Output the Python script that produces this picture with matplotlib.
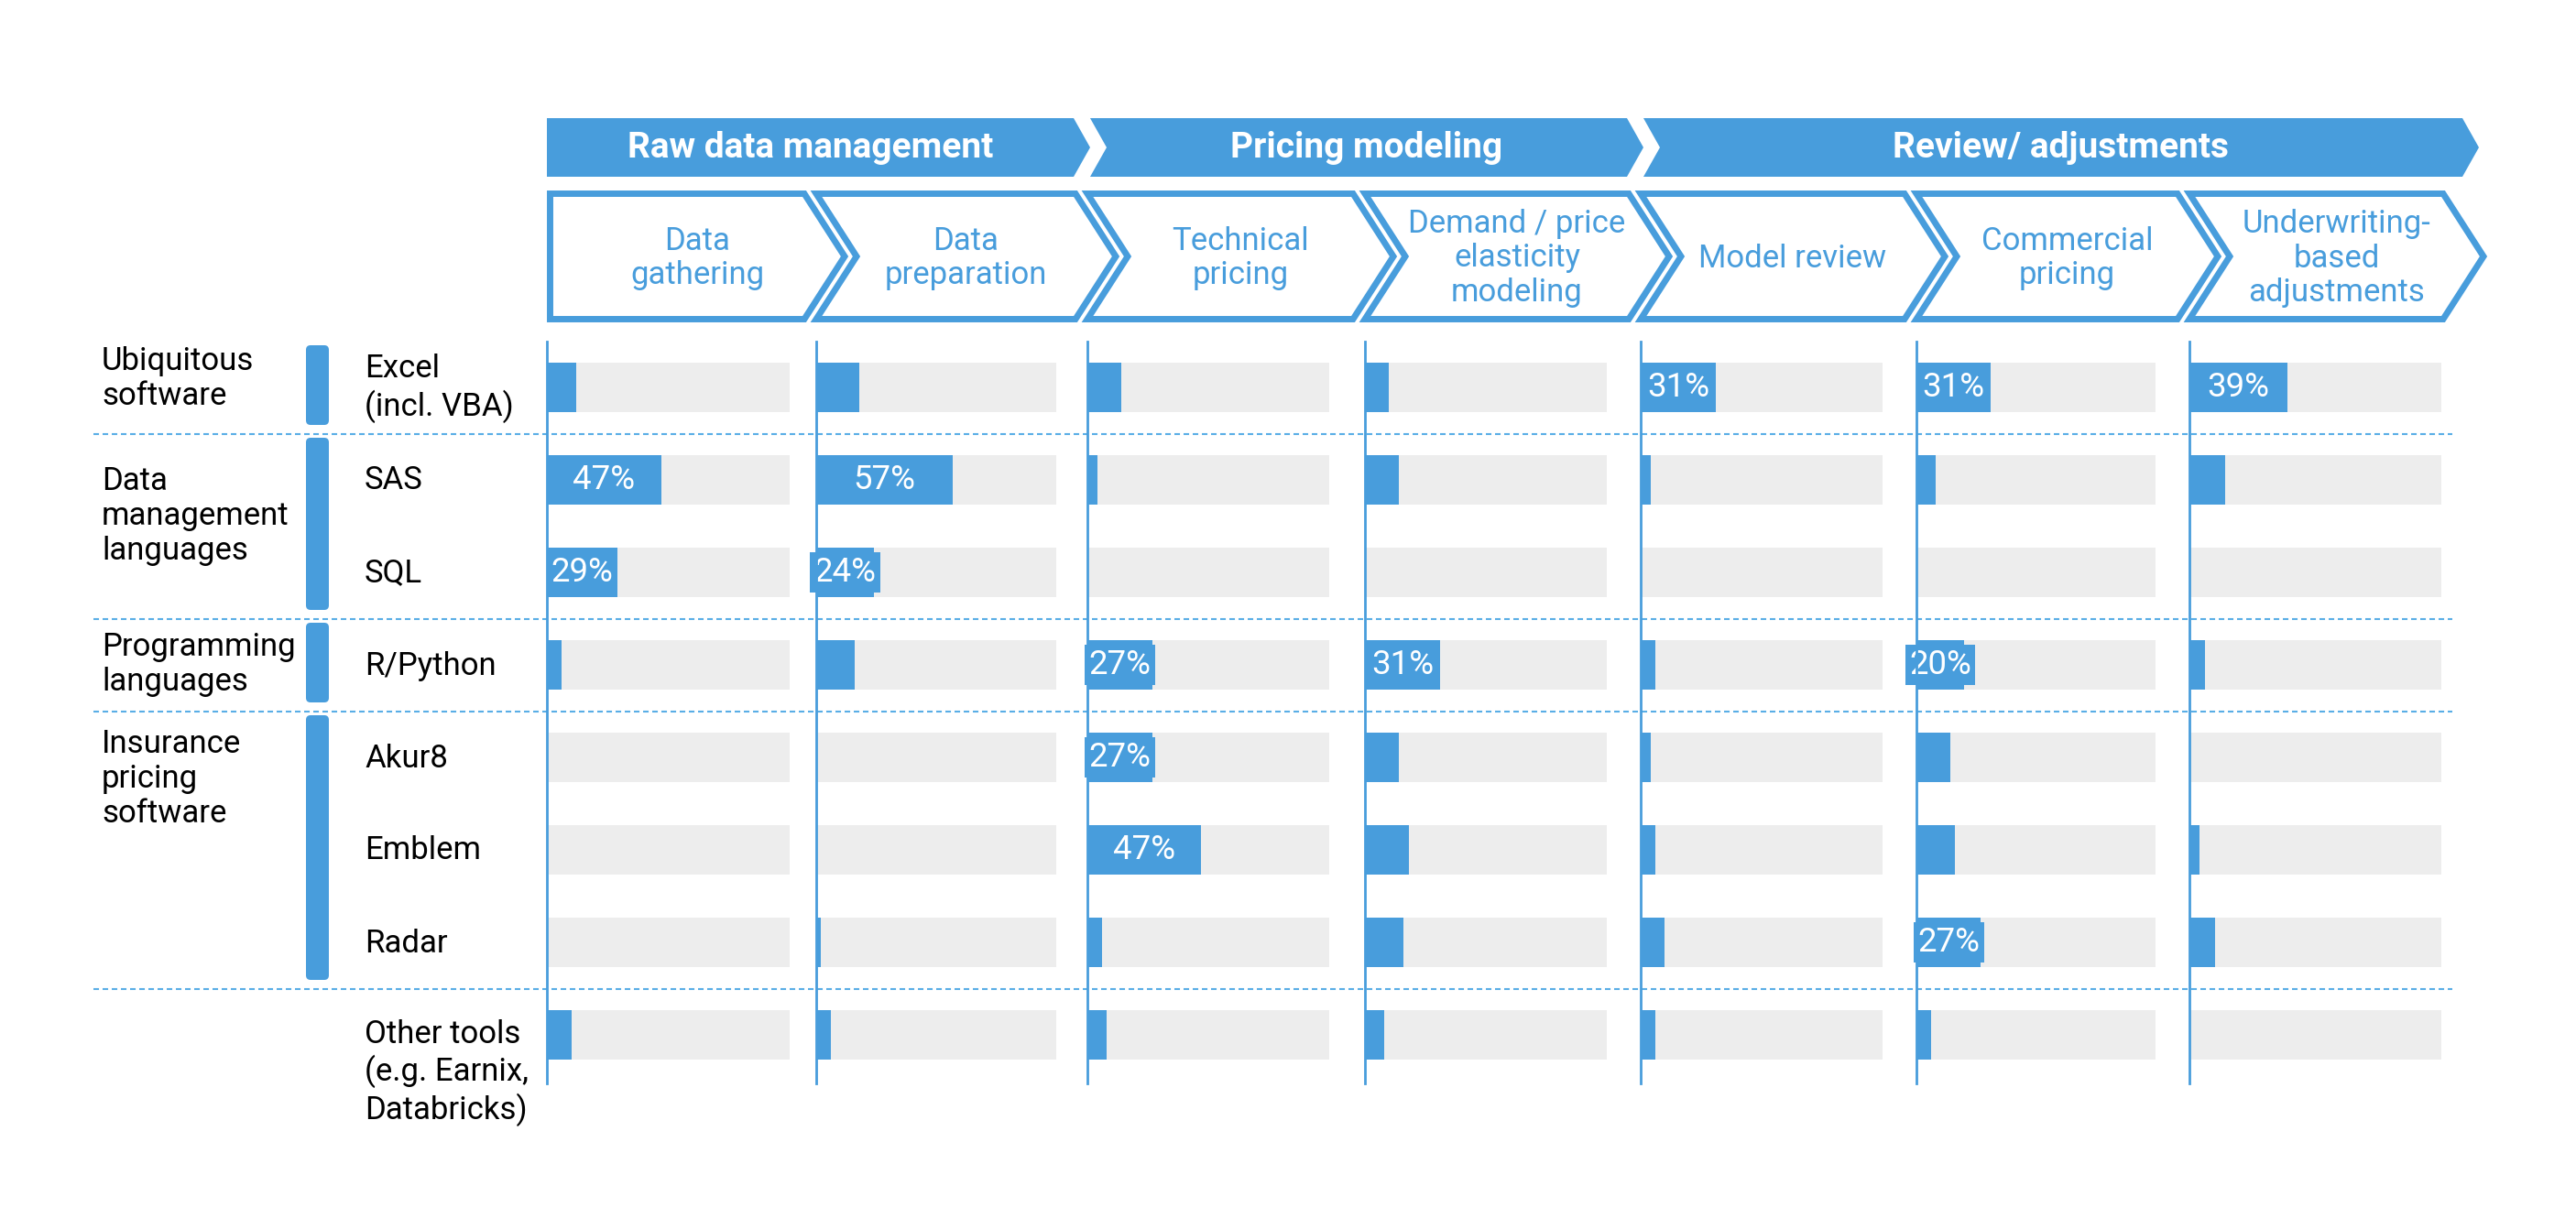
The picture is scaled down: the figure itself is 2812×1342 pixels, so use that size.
import numpy as np
import matplotlib.pyplot as plt
from matplotlib.patches import Polygon, FancyBboxPatch

plt.rcParams['font.family'] = ['Roboto', 'DejaVu Sans']

# --- data -------------------------------------------------------------
stages = ['Raw data management', 'Pricing modeling', 'Review/ adjustments']
stage_steps = [(0, 2), (2, 4), (4, 7)]
steps = ['Data\ngathering', 'Data\npreparation', 'Technical\npricing',
         'Demand / price\nelasticity\nmodeling', 'Model review',
         'Commercial\npricing', 'Underwriting-\nbased\nadjustments']
groups = ['Ubiquitous\nsoftware', 'Data\nmanagement\nlanguages',
          'Programming\nlanguages', 'Insurance\npricing\nsoftware']
group_rows = [(0, 0), (1, 2), (3, 3), (4, 6)]
tools = ['Excel\n(incl. VBA)', 'SAS', 'SQL', 'R/Python', 'Akur8', 'Emblem',
         'Radar', 'Other tools\n(e.g. Earnix,\nDatabricks)']

# share of respondents using each tool (%), one list per step, tool order
data_gathering     = [12, 47, 29, 6, 0, 0, 0, 10]
data_preparation   = [18, 57, 24, 16, 0, 0, 2, 6]
technical_pricing  = [14, 4, 0, 27, 27, 47, 6, 8]
demand_modeling    = [10, 14, 0, 31, 14, 18, 16, 8]
model_review       = [31, 4, 0, 6, 4, 6, 10, 6]
commercial_pricing = [31, 8, 0, 20, 14, 16, 27, 6]
underwriting_adj   = [39, 14, 0, 6, 0, 4, 10, 0]
values = [data_gathering, data_preparation, technical_pricing, demand_modeling,
          model_review, commercial_pricing, underwriting_adj]
label_min = 20

# --- layout (pixels) --------------------------------------------------
W, H = 2812, 1342
blue = '#489DDC'
grey = '#EDEDED'
col_x = [597, 891, 1187, 1490, 1791, 2092, 2390]
col_w = [265, 262, 264, 264, 264, 261, 275]
y_top, y_bot = 373, 1183
row0, row_step = 423, 101
group_label_dy = [1, 31, 10, 15]

def row_y(i):
    return row0 + i * row_step

fig = plt.figure(figsize=(W / 200, H / 200), dpi=200)
bg = fig.add_axes([0, 0, 1, 1])
bg.set_xlim(0, W)
bg.set_ylim(H, 0)
bg.axis('off')
bg.patch.set_alpha(0)

# stage chevrons (filled)
d_big = 18
for k, (s0, s1) in enumerate(stage_steps):
    L = col_x[s0] + (0 if k == 0 else 3)
    R = col_x[s1] - 15 if s1 < len(col_x) else 2688
    t, b, m = 129, 193, 161
    pts = [(L, t), (R, t), (R + d_big, m), (R, b), (L, b)]
    if k > 0:
        pts.append((L + d_big, m))
    bg.add_patch(Polygon(pts, closed=True, fc=blue, ec='none'))
    cx = (L + R) / 2 + (d_big / 2 if k > 0 else 0)
    bg.text(cx, m, stages[k], ha='center', va='center', color='white',
            fontsize=14, fontweight='bold')

# step chevrons (outlined)
d_sub = 44
for i, name in enumerate(steps):
    L = col_x[i] + (3.5 if i == 0 else 0)
    R = col_x[i + 1] - 13 if i < len(steps) - 1 else col_x[i] + 277
    t, b = 211.5, 348.5
    m = (t + b) / 2
    pts = [(L, t), (R, t), (R + d_sub, m), (R, b), (L, b)]
    if i > 0:
        pts.append((L + d_sub, m))
    bg.add_patch(Polygon(pts, closed=True, fc='white', ec=blue, lw=2.5,
                         joinstyle='miter'))
    bg.text((L + R + d_sub) / 2, m + 2, name, ha='center', va='center',
            color=blue, fontsize=12.5, linespacing=1.18)

# group labels and markers
for g, (r0, r1), dy in zip(groups, group_rows, group_label_dy):
    top = row_y(r0) - 46
    bot = row_y(r1) + 41
    bg.add_patch(FancyBboxPatch((334, top), 25, bot - top,
                                boxstyle='round,pad=0,rounding_size=5',
                                fc=blue, ec='none'))
    bg.text(111, top + dy, g, ha='left', va='top', fontsize=12.5,
            color='black', linespacing=1.2)

# tool labels
for i, t in enumerate(tools):
    if t.count('\n') > 1:
        bg.text(398, row_y(i) - 17, t, ha='left', va='top', fontsize=12.5,
                linespacing=1.2)
    else:
        bg.text(398, row_y(i) + 1, t, ha='left', va='center', fontsize=12.5,
                linespacing=1.2)

# dashed separators between groups
for i in [0, 2, 3, 6]:
    y = row_y(i) + row_step / 2
    bg.plot([102, 2677], [y, y], color='#5AAEE6', lw=0.75,
            linestyle=(0, (2.9, 1.9)))

# bars, one axes per step
ylo = (y_top - row0) / row_step
yhi = (y_bot - row0) / row_step
for j, vals in enumerate(values):
    ax = fig.add_axes([col_x[j] / W, 1 - y_bot / H, col_w[j] / W,
                       (y_bot - y_top) / H])
    ax.patch.set_alpha(0)
    ax.set_xlim(0, 100)
    ax.set_ylim(yhi, ylo)
    rows = np.arange(len(tools))
    ax.barh(rows, [100] * len(tools), height=0.535, color=grey, zorder=1)
    ax.barh(rows, vals, height=0.535, color=blue, zorder=2)
    for r, v in zip(rows, vals):
        if v >= label_min:
            ax.text(v / 2, r, f'{v}%', ha='center', va='center',
                    color='white', fontsize=13.2, zorder=3, clip_on=False,
                    bbox=dict(boxstyle='square,pad=0.12', fc=blue, ec='none'))
    for s in ['top', 'right', 'bottom']:
        ax.spines[s].set_visible(False)
    ax.spines['left'].set_color(blue)
    ax.spines['left'].set_linewidth(1.0)
    ax.spines['left'].set_zorder(4)
    ax.set_xticks([])
    ax.set_yticks([])

fig.savefig('out.png', dpi=200, facecolor='white')
